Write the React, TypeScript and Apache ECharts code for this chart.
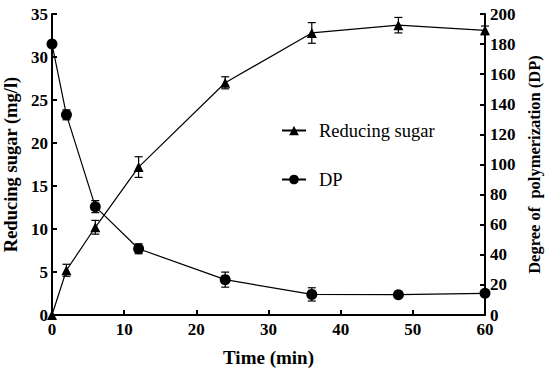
import React, { useEffect, useRef } from "react";
import * as echarts from "echarts";

const times = [0, 2, 6, 12, 24, 36, 48, 60];
const sugar = [0, 5.2, 10.2, 17.2, 27.0, 32.8, 33.7, 33.1];
const sugarErr = [0, 0.7, 0.8, 1.2, 0.7, 1.2, 0.9, 0.5];
const dp = [180, 133, 72, 44, 23.5, 13.7, 13.5, 14.4];
const dpErr = [0, 3.3, 4, 3.3, 5, 4.4, 0, 0];

const FONT = "'Liberation Serif', 'Times New Roman', serif";

function errorBars(values: number[], errs: number[]) {
  return times.map((t, i) => [t, values[i], errs[i]]);
}

function renderErr(params: any, api: any) {
  const x = api.value(0);
  const y = api.value(1);
  const e = api.value(2);
  if (!e) return { type: "group", children: [] };
  const hi = api.coord([x, y + e]);
  const lo = api.coord([x, y - e]);
  const w = 4;
  const style = { stroke: "#000", lineWidth: 1.2 };
  return {
    type: "group",
    children: [
      { type: "line", shape: { x1: hi[0], y1: hi[1], x2: lo[0], y2: lo[1] }, style },
      { type: "line", shape: { x1: hi[0] - w, y1: hi[1], x2: hi[0] + w, y2: hi[1] }, style },
      { type: "line", shape: { x1: lo[0] - w, y1: lo[1], x2: lo[0] + w, y2: lo[1] }, style },
    ],
  };
}

export default function App() {
  const ref = useRef<HTMLDivElement>(null);
  useEffect(() => {
    const chart = echarts.init(ref.current!, undefined, { renderer: "svg" });
    const axisLine = { show: true, lineStyle: { color: "#000", width: 2 } };
    const axisTick = { show: true, inside: true, length: 5, lineStyle: { color: "#000", width: 2 } };
    const labelStyle = { color: "#000", fontFamily: FONT, fontWeight: "bold" as const, fontSize: 17 };
    chart.setOption({
      animation: false,
      backgroundColor: "#fff",
      grid: { left: 52, right: 65, top: 14, bottom: 57, outerBoundsMode: "none", containLabel: false },
      legend: {
        data: ["Reducing sugar", "DP"],
        orient: "vertical",
        left: 281,
        top: 121,
        padding: 0,
        itemWidth: 24,
        itemHeight: 12,
        itemGap: 30,
        textStyle: { color: "#000", fontFamily: FONT, fontSize: 18.5, padding: [0, 0, 0, 8] },
      },
      xAxis: {
        type: "value",
        min: 0,
        max: 60,
        interval: 10,
        name: "Time (min)",
        nameLocation: "middle",
        nameGap: 33,
        nameTextStyle: { ...labelStyle, fontSize: 19 },
        axisLine,
        axisTick,
        splitLine: { show: false },
        axisLabel: { ...labelStyle, margin: 6 },
      },
      yAxis: [
        {
          type: "value",
          min: 0,
          max: 35,
          interval: 5,
          name: "Reducing sugar (mg/l)",
          nameLocation: "middle",
          nameGap: 30,
          nameTextStyle: { ...labelStyle, fontSize: 18.5 },
          axisLine,
          axisTick,
          splitLine: { show: false },
          axisLabel: { ...labelStyle, margin: 4 },
        },
        {
          type: "value",
          min: 0,
          max: 200,
          interval: 20,
          position: "right",
          name: "Degree of  polymerization (DP)",
          nameLocation: "middle",
          nameGap: 40,
          nameRotate: 90,
          nameTextStyle: { ...labelStyle, fontSize: 16.5 },
          axisLine,
          axisTick,
          splitLine: { show: false },
          axisLabel: { ...labelStyle, margin: 5 },
        },
      ],
      series: [
        {
          type: "custom",
          name: "sugarErr",
          yAxisIndex: 0,
          data: errorBars(sugar, sugarErr),
          encode: { x: 0, y: 1 },
          renderItem: renderErr,
          z: 1,
          silent: true,
        },
        {
          type: "custom",
          name: "dpErr",
          yAxisIndex: 1,
          data: errorBars(dp, dpErr),
          encode: { x: 0, y: 1 },
          renderItem: renderErr,
          z: 1,
          silent: true,
        },
        {
          type: "line",
          name: "Reducing sugar",
          yAxisIndex: 0,
          data: times.map((t, i) => [t, sugar[i]]),
          symbol: "triangle",
          symbolSize: 10,
          clip: false,
          lineStyle: { color: "#000", width: 1.2 },
          itemStyle: { color: "#000" },
          z: 3,
        },
        {
          type: "line",
          name: "DP",
          yAxisIndex: 1,
          data: times.map((t, i) => [t, dp[i]]),
          symbol: "circle",
          symbolSize: 11,
          clip: false,
          lineStyle: { color: "#000", width: 1.2 },
          itemStyle: { color: "#000" },
          z: 3,
        },
      ],
    });
    return () => chart.dispose();
  }, []);
  return <div ref={ref} style={{ width: 550, height: 372, position: "absolute", left: 0, top: 0 }} />;
}
